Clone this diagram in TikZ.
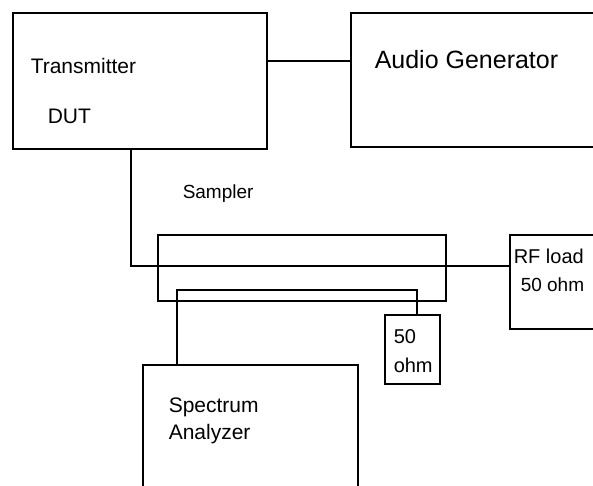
\documentclass[tikz,border=0pt]{standalone}
\usepackage{fontspec}
\setmainfont{Liberation Sans}
\begin{document}
\begin{tikzpicture}[x=1pt,y=-1pt, line width=1.5pt,
  box/.style={draw=black, line width=1.5pt, inner sep=0pt, anchor=north west},
  wire/.style={draw=black, line width=1.5pt},
  lbl/.style={anchor=base west, inner sep=0pt, font=\fontsize{#1}{#1}\selectfont},
  lbl/.default=20]
\useasboundingbox (0,0) rectangle (593,485);
\fill[white] (0,0) rectangle (593,485);
\clip (0,0) rectangle (593,485);
% boxes
\node[box, minimum width=254pt, minimum height=136pt] (tx) at (12,12) {};
\node[box, minimum width=260pt, minimum height=134pt] (ag) at (350,12) {};
\node[box, minimum width=288pt, minimum height=66pt] (smp) at (157,234) {};
\node[box, minimum width=100pt, minimum height=94pt] (rf) at (509,234) {};
\node[box, minimum width=55pt, minimum height=69pt] (r50) at (384,314) {};
\node[box, minimum width=215pt, minimum height=140pt] (sa) at (142,364) {};
% labels
\node[lbl=21] (ttx) at (30,73) {Transmitter};
\node[lbl=21] (tdut) at (47,123) {DUT};
\node[lbl=25] (tag) at (374,68) {Audio Generator};
\node[lbl=19] (tsmp) at (182,198) {Sampler};
\node[lbl=20] (trf1) at (513,263) {RF load};
\node[lbl=19] (trf2) at (520,291) {50 ohm};
\node[lbl=20] (t501) at (393,343) {50};
\node[lbl=20] (t502) at (393,372) {ohm};
\node[lbl=21] (tsa1) at (168,412) {Spectrum};
\node[lbl=21] (tsa2) at (168,439) {Analyzer};
% connectors
\draw[wire] (tx.east |- 0,61) -- (ag.west |- 0,61);
\draw[wire] (131,0 |- tx.south) -- (131,266) -- (rf.west |- 0,266);
\draw[wire] (177,0 |- sa.north) -- (177,290) -- (417,290) -- (417,0 |- r50.north);
\end{tikzpicture}
\end{document}
